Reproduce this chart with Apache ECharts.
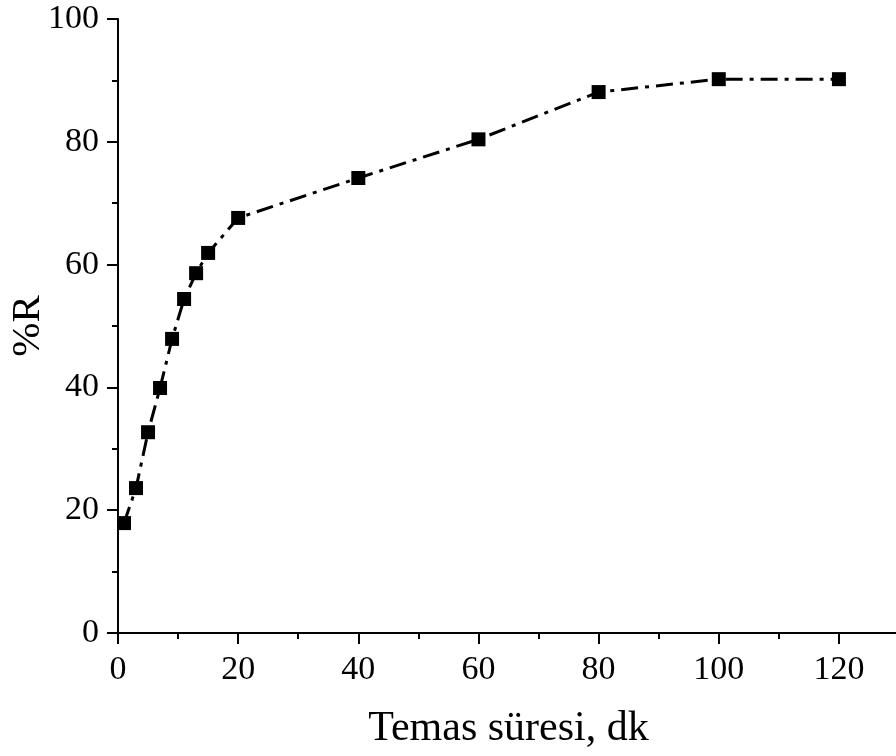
<!DOCTYPE html>
<html>
<head>
<meta charset="utf-8">
<script src="https://cdn.jsdelivr.net/npm/echarts@6/dist/echarts.min.js"></script>
<style>html,body{margin:0;padding:0;background:#fff}#c{width:896px;height:756px}</style>
</head>
<body>
<div id="c"></div>
<script>
const timeMin = [1, 3, 5, 7, 9, 11, 13, 15, 20, 40, 60, 80, 100, 120];
const removal = [17.9, 23.6, 32.7, 39.9, 47.9, 54.4, 58.6, 61.9, 67.6, 74.1, 80.4, 88.1, 90.2, 90.2];
const xTitle = 'Temas süresi, dk';
const yTitle = '%R';

const chart = echarts.init(document.getElementById('c'), null, {renderer: 'canvas'});
const font = 'Liberation Serif';
const axisCommon = {
  axisLine: {show: true, onZero: false, lineStyle: {color: '#000', width: 2}},
  axisTick: {show: true, inside: false, length: 11, lineStyle: {color: '#000', width: 2}},
  minorTick: {show: true, splitNumber: 2, length: 6, lineStyle: {color: '#000', width: 2}},
  splitLine: {show: false},
  axisLabel: {color: '#000', fontFamily: font, fontSize: 34},
  nameTextStyle: {color: '#000', fontFamily: font, fontSize: 42},
  nameLocation: 'middle',
  nameMoveOverlap: false
};
chart.setOption({
  animation: false,
  backgroundColor: '#fff',
  grid: {left: 118, top: 19, bottom: 123, right: -3, containLabel: false, outerBoundsMode: 'none'},
  xAxis: Object.assign({}, axisCommon, {
    type: 'value', min: 0, max: 130, interval: 20,
    name: xTitle, nameGap: 75,
    axisLabel: Object.assign({}, axisCommon.axisLabel, {margin: 20, showMaxLabel: false})
  }),
  yAxis: Object.assign({}, axisCommon, {
    type: 'value', min: 0, max: 100, interval: 20,
    name: yTitle, nameGap: 69,
    nameTextStyle: Object.assign({}, axisCommon.nameTextStyle, {fontSize: 41}),
    axisLabel: Object.assign({}, axisCommon.axisLabel, {margin: 19})
  }),
  series: [{
    type: 'line',
    data: timeMin.map((t, i) => [t, removal[i]]),
    symbol: 'rect', symbolSize: 14,
    itemStyle: {color: '#000'},
    lineStyle: {color: '#000', width: 3, type: [17, 7, 4, 7]},
    clip: false
  }]
});
</script>
</body>
</html>
